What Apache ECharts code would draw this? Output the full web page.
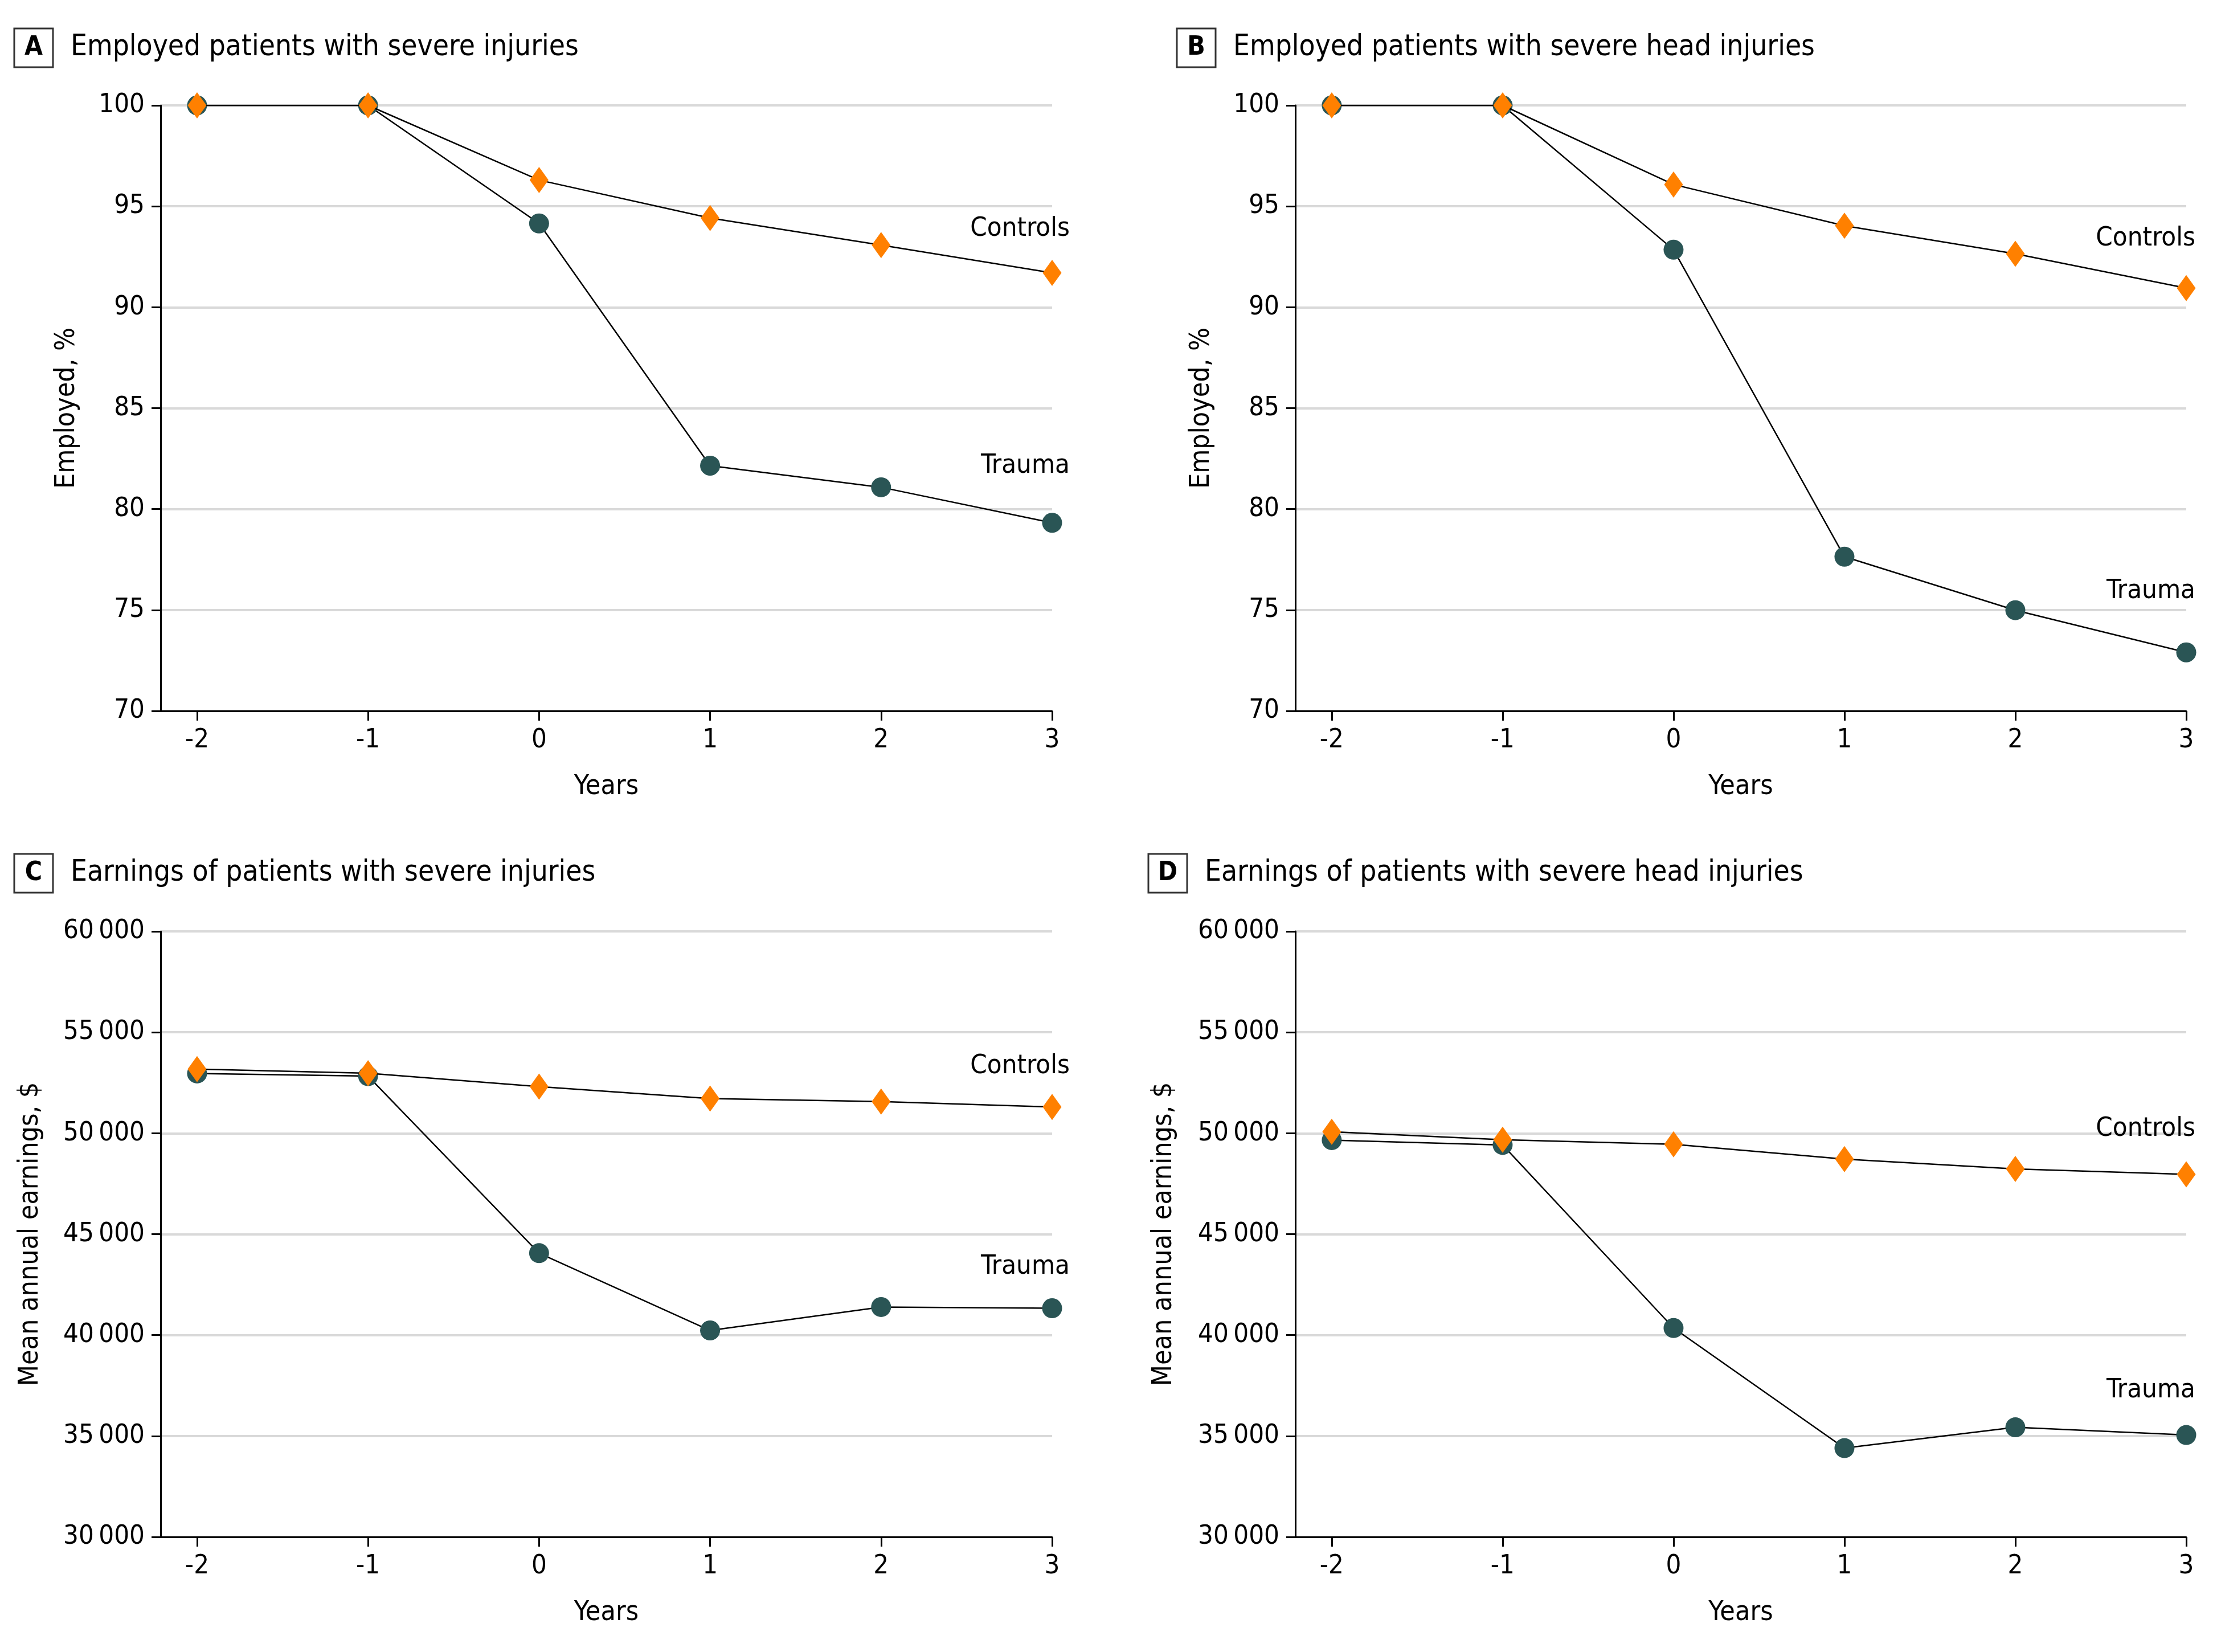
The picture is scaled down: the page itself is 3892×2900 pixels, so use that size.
<!DOCTYPE html>
<html lang="en">
<head>
  <meta charset="UTF-8">
  <title>Employment and earnings after severe injuries</title>
  <style>
    html, body { margin: 0; padding: 0; overflow: hidden; background: #fff; }
    #chart { width: 3892px; height: 2900px; }
  </style>
</head>
<body>
  <div id="chart"></div>
  <script src="https://cdn.jsdelivr.net/npm/echarts@6/dist/echarts.min.js"></script>
  <script>
    // data
    var years = [-2, -1, 0, 1, 2, 3];

    var employedTraumaA = [100, 100, 94.15, 82.15, 81.08, 79.32];
    var employedControlsA = [100, 100, 96.3, 94.42, 93.08, 91.7];

    var employedTraumaB = [100, 100, 92.85, 77.64, 74.99, 72.9];
    var employedControlsB = [100, 100, 96.08, 94.04, 92.65, 90.95];

    var earningsTraumaC = [52960, 52830, 44060, 40230, 41390, 41330];
    var earningsControlsC = [53180, 52970, 52310, 51720, 51570, 51300];

    var earningsTraumaD = [49660, 49420, 40350, 34400, 35430, 35050];
    var earningsControlsD = [50070, 49680, 49450, 48720, 48230, 47960];

    var panelLetters = ['A', 'B', 'C', 'D'];
    var panelTitles = [
      'Employed patients with severe injuries',
      'Employed patients with severe head injuries',
      'Earnings of patients with severe injuries',
      'Earnings of patients with severe head injuries'
    ];
    var yNames = ['Employed, %', 'Employed, %', 'Mean annual earnings, $', 'Mean annual earnings, $'];
    var seriesNames = ['Trauma', 'Controls'];

    var FONT = "'Liberation Sans Narrow', 'DejaVu Sans Condensed', 'Roboto', sans-serif";
    var TRAUMA = '#2a5555';
    var CONTROLS = '#ff8000';

    const myChart = echarts.init(document.querySelector('#chart'), null, { renderer: 'canvas' });

    function thousands(v) {
      return String(v).replace(/\B(?=(\d{3})+(?!\d))/g, '\u2009');
    }

    // layout of the four panels
    var panels = [
      { grid: { left: 282, top: 185, width: 1565, height: 1063 }, title: { left: 25, top: 50 },
        y: [70, 100, 5], nameGap: 140, traumaOff: [31, -100], controlsOff: [31, -77],
        trauma: employedTraumaA, controls: employedControlsA },
      { grid: { left: 2274, top: 185, width: 1564, height: 1063 }, title: { left: 2066, top: 50 },
        y: [70, 100, 5], nameGap: 140, traumaOff: [16, -107], controlsOff: [16, -87],
        trauma: employedTraumaB, controls: employedControlsB },
      { grid: { left: 282, top: 1635, width: 1565, height: 1063 }, title: { left: 25, top: 1499 },
        y: [30000, 60000, 5000], nameGap: 204, traumaOff: [31, -73], controlsOff: [31, -71],
        trauma: earningsTraumaC, controls: earningsControlsC },
      { grid: { left: 2274, top: 1635, width: 1564, height: 1063 }, title: { left: 2016, top: 1499 },
        y: [30000, 60000, 5000], nameGap: 206, traumaOff: [16, -78], controlsOff: [16, -80],
        trauma: earningsTraumaD, controls: earningsControlsD }
    ];

    function buildData(values, name, offset) {
      return years.map(function (yr, i) {
        var item = { value: [yr, values[i]] };
        if (i === years.length - 1) {
          item.label = {
            show: true, position: 'inside', align: 'right', verticalAlign: 'middle',
            offset: offset, formatter: name, color: '#000', fontSize: 47, fontFamily: FONT
          };
        }
        return item;
      });
    }

    var option = {
      backgroundColor: '#fff',
      animation: false,
      textStyle: { fontFamily: FONT },
      title: [], grid: [], xAxis: [], yAxis: [], series: []
    };

    panels.forEach(function (p, k) {
      option.title.push({
        left: p.title.left, top: p.title.top, padding: 0,
        text: '{box|' + panelLetters[k] + '}{t|' + panelTitles[k] + '}',
        textStyle: {
          fontWeight: 'normal',
          rich: {
            box: {
              width: 68, height: 68, align: 'center', verticalAlign: 'middle',
              borderColor: '#333', borderWidth: 3, fontSize: 46, fontWeight: 'bold',
              color: '#000', fontFamily: FONT
            },
            t: { fontSize: 51, fontWeight: 'normal', color: '#000', padding: [0, 0, 0, 31], fontFamily: FONT }
          }
        }
      });
      option.grid.push(p.grid);
      option.xAxis.push({
        type: 'value', gridIndex: k, min: -2.213, max: 3,
        name: 'Years', nameLocation: 'middle', nameGap: 110,
        nameTextStyle: { fontSize: 48, color: '#000', fontFamily: FONT },
        axisLine: { onZero: false, lineStyle: { color: '#000', width: 3 } },
        axisTick: { show: true, length: 17, lineStyle: { color: '#000', width: 3 }, customValues: years },
        axisLabel: { fontSize: 47, color: '#000', margin: 28, fontFamily: FONT, customValues: years },
        splitLine: { show: false }
      });
      option.yAxis.push({
        type: 'value', gridIndex: k, min: p.y[0], max: p.y[1], interval: p.y[2],
        name: yNames[k], nameLocation: 'middle', nameGap: p.nameGap, nameRotate: 90,
        nameTextStyle: { fontSize: 48, color: '#000', fontFamily: FONT },
        axisLine: { show: true, onZero: false, lineStyle: { color: '#000', width: 3 } },
        axisTick: { show: true, length: 16, lineStyle: { color: '#000', width: 3 } },
        axisLabel: { fontSize: 47, color: '#000', margin: 28, fontFamily: FONT, formatter: thousands },
        splitLine: { show: true, lineStyle: { color: '#d9d9d9', width: 4 } }
      });
      option.series.push({
        name: seriesNames[0], type: 'line', xAxisIndex: k, yAxisIndex: k,
        data: buildData(p.trauma, seriesNames[0], p.traumaOff),
        symbol: 'circle', symbolSize: 35,
        itemStyle: { color: TRAUMA },
        lineStyle: { color: '#000', width: 2.5 },
        z: 2
      });
      option.series.push({
        name: seriesNames[1], type: 'line', xAxisIndex: k, yAxisIndex: k,
        data: buildData(p.controls, seriesNames[1], p.controlsOff),
        symbol: 'diamond', symbolSize: [33, 46],
        itemStyle: { color: CONTROLS },
        lineStyle: { color: '#000', width: 2.5 },
        z: 3
      });
    });

    myChart.setOption(option);
  </script>
</body>
</html>
